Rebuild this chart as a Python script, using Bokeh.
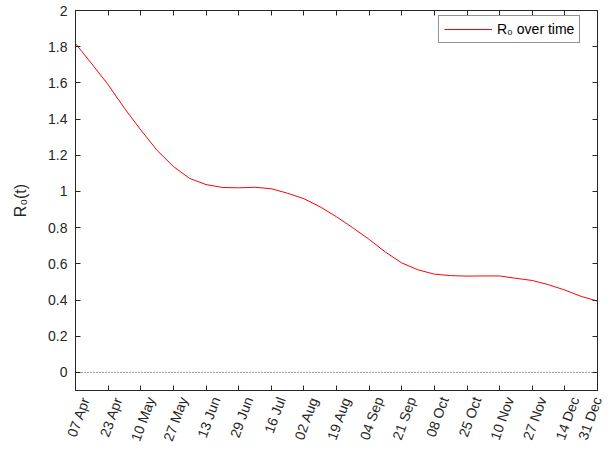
import numpy as np
from bokeh.plotting import figure
from bokeh.models import Range1d, FixedTicker, Span, LinearAxis, Legend, LegendItem
from bokeh.embed import file_html
from bokeh.resources import INLINE

# days since 07 Apr
days = [0, 8.4, 16.75, 25.1, 33.5, 41.9, 50.25, 58.6, 67, 75.4, 83.75, 92.1,
        100.5, 108.9, 117.25, 125.6, 134, 142.3, 150.75, 159.1, 167.5, 175.8,
        184.25, 192.6, 201, 209.3, 217.75, 226.1, 234.5, 242.8, 251.25, 259.6, 268]
r0 = [1.817, 1.705, 1.59, 1.46, 1.34, 1.227, 1.138, 1.072, 1.038, 1.022, 1.02, 1.023,
      1.015, 0.99, 0.96, 0.915, 0.86, 0.80, 0.735, 0.665, 0.605, 0.567,
      0.543, 0.535, 0.532, 0.533, 0.533, 0.52, 0.508, 0.485, 0.455, 0.42, 0.394]

tick_labels = ["07 Apr", "23 Apr", "10 May", "27 May", "13 Jun", "29 Jun", "16 Jul",
               "02 Aug", "19 Aug", "04 Sep", "21 Sep", "08 Oct", "25 Oct", "10 Nov",
               "27 Nov", "14 Dec", "31 Dec"]
y_ticks = [0, 0.2, 0.4, 0.6, 0.8, 1, 1.2, 1.4, 1.6, 1.8, 2]
y_labels = ["0", "0.2", "0.4", "0.6", "0.8", "1", "1.2", "1.4", "1.6", "1.8", "2"]

X_MAX = 268
x_ticks = list(np.linspace(0, X_MAX, len(tick_labels)))
Y_MIN, Y_MAX = -0.1, 2.0

FONT = "Liberation Sans"
AX = "#262626"
FRAME_W = 522
LABEL_SHIFT_PX = 10  # rotated labels sit slightly right of their ticks
shift = LABEL_SHIFT_PX * X_MAX / FRAME_W
lab_end = X_MAX - shift
# positions of labels on the shifted scale (last one clamped to the frame edge)
lab_pos = [min(t, lab_end) for t in x_ticks]

p = figure(frame_width=FRAME_W, frame_height=380, output_backend="svg", toolbar_location=None,
           x_range=Range1d(0, X_MAX), y_range=Range1d(Y_MIN, Y_MAX),
           min_border_left=75, min_border_right=13, min_border_top=10, min_border_bottom=20,
           x_axis_location=None, y_axis_location=None)
p.extra_x_ranges = {"lab": Range1d(-shift, lab_end)}
p.xgrid.visible = False
p.ygrid.visible = False
p.outline_line_color = AX
p.outline_line_width = 1

xb = LinearAxis(ticker=FixedTicker(ticks=x_ticks), major_label_text_font_size="0px",
                major_label_standoff=0)
yl = LinearAxis(ticker=FixedTicker(ticks=y_ticks),
                major_label_overrides={t: l for t, l in zip(y_ticks, y_labels)},
                axis_label="R₀(t)")
xt = LinearAxis(ticker=FixedTicker(ticks=x_ticks), major_label_text_font_size="0px",
                major_label_standoff=0)
yr = LinearAxis(ticker=FixedTicker(ticks=y_ticks), major_label_text_font_size="0px",
                major_label_standoff=0)
for ax in (xb, yl, xt, yr):
    ax.axis_line_color = AX
    ax.major_tick_line_color = AX
    ax.major_tick_in = 5
    ax.major_tick_out = 0
    ax.minor_tick_line_color = None
    ax.major_label_text_font = FONT
    ax.major_label_text_color = AX
yl.major_label_text_font_size = "14px"
yl.major_label_standoff = 8
yl.axis_label_text_font = FONT
yl.axis_label_text_font_size = "16px"
yl.axis_label_text_font_style = "normal"
yl.axis_label_text_color = AX
yl.axis_label_standoff = 16

# date labels on a shifted copy of the x scale
xlab = LinearAxis(x_range_name="lab", ticker=FixedTicker(ticks=lab_pos),
                  major_label_overrides={t: l for t, l in zip(lab_pos, tick_labels)},
                  major_label_orientation=np.deg2rad(70),
                  axis_line_color=None, major_tick_line_color=None,
                  minor_tick_line_color=None, major_tick_in=0, major_tick_out=0,
                  major_label_standoff=7, major_label_text_font=FONT,
                  major_label_text_font_size="14px", major_label_text_color=AX)

p.add_layout(xb, "below")
p.add_layout(xlab, "below")
p.add_layout(yl, "left")
p.add_layout(xt, "above")
p.add_layout(yr, "right")

p.add_layout(Span(location=0, dimension="width", line_color="black",
                  line_dash="1 2", line_width=0.8))

r = p.line(days, r0, line_color="#ff0000", line_width=1)

legend = Legend(items=[LegendItem(label="R₀ over time", renderers=[r])],
                location=(363, 347), border_line_color=AX, border_line_width=1,
                label_text_font=FONT, label_text_font_size="14px", label_text_color="black",
                glyph_width=48, glyph_height=16, label_standoff=5, padding=5,
                margin=0, spacing=0, label_height=16)
p.add_layout(legend, "center")

open("out.html", "w").write(file_html(p, INLINE))
